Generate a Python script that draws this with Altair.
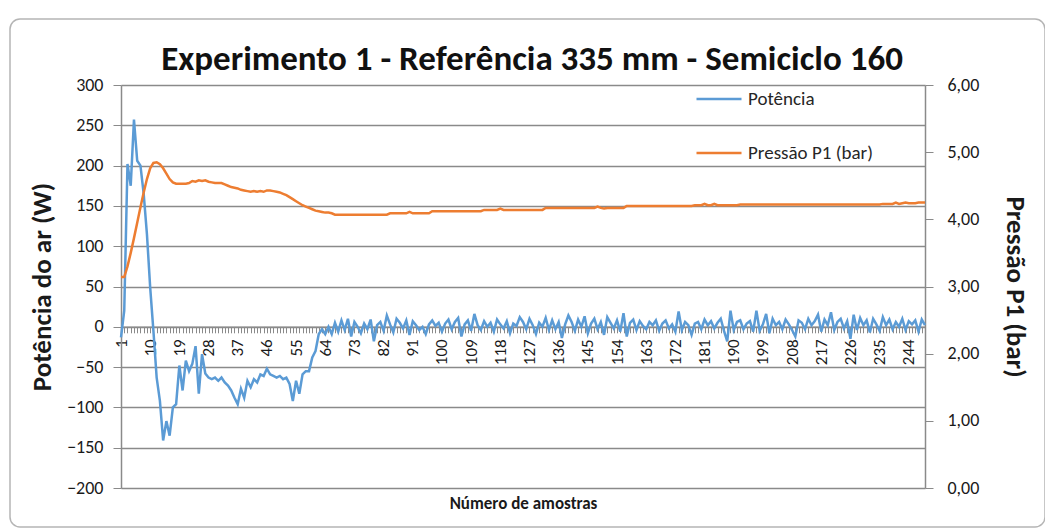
import altair as alt
import pandas as pd

amostras = list(range(1, 250))

potencia = [
    -13, 20, 202, 175, 257, 206, 200, 165, 115, 49,
    -5, -63, -92, -141, -117, -135, -100, -96, -48, -79,
    -42, -55, -46, -24, -83, -34, -58, -63, -65, -63,
    -67, -63, -69, -73, -79, -88, -96, -77, -88, -67,
    -75, -65, -69, -59, -61, -52, -59, -61, -63, -61,
    -65, -63, -71, -92, -67, -83, -59, -55, -55, -38,
    -30, -9, -3, -9, 0, -9,
    5, -6, 8, -4, 10, -12, 6, 0, -8, 4,
    -3, 9, -18, 2, 6, -5, 14, 3, -7, 10,
    5, -2, 8, -10, 7, 2, -4, 0, -9, 3,
    8, 1, 5, -6, 4, 9, -3, 6, 11, -12,
    3, 8, -5, 16, 2, -4, 7, 0, 5, -6,
    9, 3, -2, 7, -8, 4, 1, 12, 6, -3,
    10, 2, -9, 5, 0, 11, -4, 8, -3, 6,
    -14, 3, 14, 6, -5, 9, 0, 13, -8, 4,
    10, -3, 6, -10, 12, 5, -2, 8, -6, 17,
    -12, 5, 9, -4, 7, 1, -3, 6, 2, 8,
    -5, 4, 8, -2, 3, -6, 19, -4, 6, 2,
    -10, 4, 6, -3, 9, 2, 7, -2, 5, 10,
    -5, -18, 20, -4, 6, 8, -3, 4, 7, -6,
    20, -5, 3, 16, -8, 10, 2, 6, -3, 9,
    3, -4, -12, 8, 5, -3, 10, 2, 7, 15,
    -6, 9, 2, 18, -4, 6, 10, -2, 7, -15,
    15, -4, 11, 2, 8, -7, 10, 3, -5, 12,
    2, 9, -3, 6, 0, 10, -4, 7, 3, 8,
    -6, 9, 2,
]

pressao = (
    [3.14, 3.14, 3.30, 3.50, 3.72, 3.95, 4.18, 4.40, 4.60, 4.76,
     4.84, 4.85, 4.82, 4.76, 4.68, 4.60, 4.55, 4.53, 4.53, 4.53,
     4.53, 4.54, 4.57, 4.56, 4.58, 4.57, 4.58, 4.56, 4.55, 4.54,
     4.54, 4.54, 4.52, 4.50, 4.48, 4.47, 4.46, 4.44, 4.43, 4.42,
     4.41, 4.42, 4.41, 4.42, 4.41, 4.43, 4.43, 4.42, 4.41, 4.40,
     4.38, 4.36, 4.33, 4.30, 4.27, 4.24, 4.21, 4.19, 4.17, 4.15,
     4.13, 4.12, 4.11, 4.10, 4.10, 4.09]
    + [4.07] * 17
    + [4.09, 4.09, 4.09, 4.09, 4.09, 4.09, 4.11, 4.09, 4.09, 4.09, 4.09, 4.09, 4.09]
    + [4.12] * 16
    + [4.14, 4.14, 4.14, 4.14, 4.14, 4.16, 4.14, 4.14, 4.14, 4.14,
       4.14, 4.14, 4.14, 4.14, 4.14, 4.14, 4.14, 4.14, 4.14]
    + [4.17, 4.17, 4.17, 4.17, 4.17, 4.17, 4.17, 4.17, 4.17, 4.17,
       4.17, 4.17, 4.17, 4.17, 4.17, 4.17, 4.19, 4.17, 4.16, 4.17,
       4.17, 4.17, 4.17, 4.17, 4.17]
    + [4.20] * 21
    + [4.21, 4.21, 4.21, 4.23, 4.21, 4.21, 4.23, 4.21, 4.21, 4.21, 4.21, 4.21, 4.21, 4.21]
    + [4.22] * 44
    + [4.23, 4.23, 4.23, 4.23, 4.25, 4.23, 4.24, 4.25, 4.24, 4.24, 4.24, 4.25, 4.25, 4.25]
)

rotulos_esq = [-200, -150, -100, -50, 0, 50, 100, 150, 200, 250, 300]
rotulos_dir = [0, 1, 2, 3, 4, 5, 6]
series = ["Potência", "Pressão P1 (bar)"]
cores = ["#5B9BD5", "#ED7D31"]
titulo = "Experimento 1 - Referência 335 mm - Semiciclo 160"

df = pd.DataFrame({"amostra": amostras, "potencia": potencia, "pressao": pressao})

FONT = "Carlito, 'Liberation Sans Narrow', 'Open Sans', sans-serif"
GRID = "#8a8a8a"
W, H = 804, 403

color_scale = alt.Scale(domain=series, range=cores)
legend = alt.Legend(
    orient="none", legendX=574, legendY=-10, symbolType="stroke",
    symbolSize=2025, symbolStrokeWidth=2.5, labelFontSize=19, labelFont=FONT,
    labelColor="#262626", rowPadding=20, labelOffset=5, title=None,
)
color_enc = alt.Color("serie:N", scale=color_scale, legend=legend)

x_enc = alt.X(
    "amostra:Q",
    scale=alt.Scale(domain=[1, 249], nice=False, zero=False),
    axis=alt.Axis(
        values=amostras,
        labelExpr="(datum.value - 1) % 9 == 0 ? datum.label : ''",
        labelAngle=270, labelOverlap=False, labelFontSize=17, labelFont=FONT,
        labelColor="#1a1a1a", labelPadding=6, tickSize=6, tickColor=GRID,
        domainColor=GRID, domainWidth=1.5, offset=-H * 200 / 500, grid=False,
        title="Número de amostras", titleFont=FONT, titleFontSize=17,
        titleFontWeight="bold", titleColor="#1a1a1a", titleX=W / 2,
        titleY=H * 200 / 500 + 15, titleBaseline="middle", titleAlign="center",
    ),
)

borda = alt.Chart(pd.DataFrame({"a": [0]})).mark_rect(
    filled=False, stroke="#b5b5b5", strokeWidth=1.5, cornerRadius=10
).encode(
    x=alt.value(-111), x2=alt.value(924), y=alt.value(-66), y2=alt.value(442)
)

linha_pot = alt.Chart(df).transform_calculate(
    serie="'Potência'"
).mark_line(strokeWidth=2.5).encode(
    x=x_enc,
    y=alt.Y(
        "potencia:Q",
        scale=alt.Scale(domain=[-200, 300], nice=False),
        axis=alt.Axis(
            orient="left", values=rotulos_esq, grid=True, gridColor=GRID,
            gridWidth=1.5, domainColor=GRID, domainWidth=1.5, tickColor=GRID,
            tickSize=8, labelFontSize=18, labelFont=FONT, labelColor="#1a1a1a",
            labelPadding=10, title="Potência do ar (W)", titleFont=FONT,
            titleFontSize=27, titleFontWeight="bold", titleColor="#1a1a1a",
            titlePadding=10,
        ),
    ),
    color=color_enc,
)

linha_pres = alt.Chart(df).transform_calculate(
    serie="'Pressão P1 (bar)'"
).mark_line(strokeWidth=2.5).encode(
    x=x_enc,
    y=alt.Y(
        "pressao:Q",
        scale=alt.Scale(domain=[0, 6], nice=False),
        axis=alt.Axis(
            orient="right", values=rotulos_dir, grid=False,
            labelExpr="replace(format(datum.value, '.2f'), '.', ',')",
            domainColor=GRID, domainWidth=1.5, tickColor=GRID, tickSize=8,
            labelFontSize=18, labelFont=FONT, labelColor="#1a1a1a",
            labelPadding=14, title="Pressão P1 (bar)", titleFont=FONT,
            titleFontSize=27, titleFontWeight="bold", titleColor="#1a1a1a",
            titlePadding=22,
        ),
    ),
    color=color_enc,
)

chart = alt.layer(borda, linha_pot, linha_pres).resolve_scale(
    y="independent"
).properties(
    width=W, height=H,
    autosize=alt.AutoSizeParams(type="none"),
    padding={"left": 113, "top": 77, "right": 120, "bottom": 43},
    title=alt.Title(titulo, font=FONT, fontSize=35, fontWeight="bold",
                    color="#111111", anchor="middle", offset=-59, dx=9),
    background="white",
).configure_view(strokeWidth=0)

chart.save("out.html", embed_options={"renderer": "svg", "actions": False})
